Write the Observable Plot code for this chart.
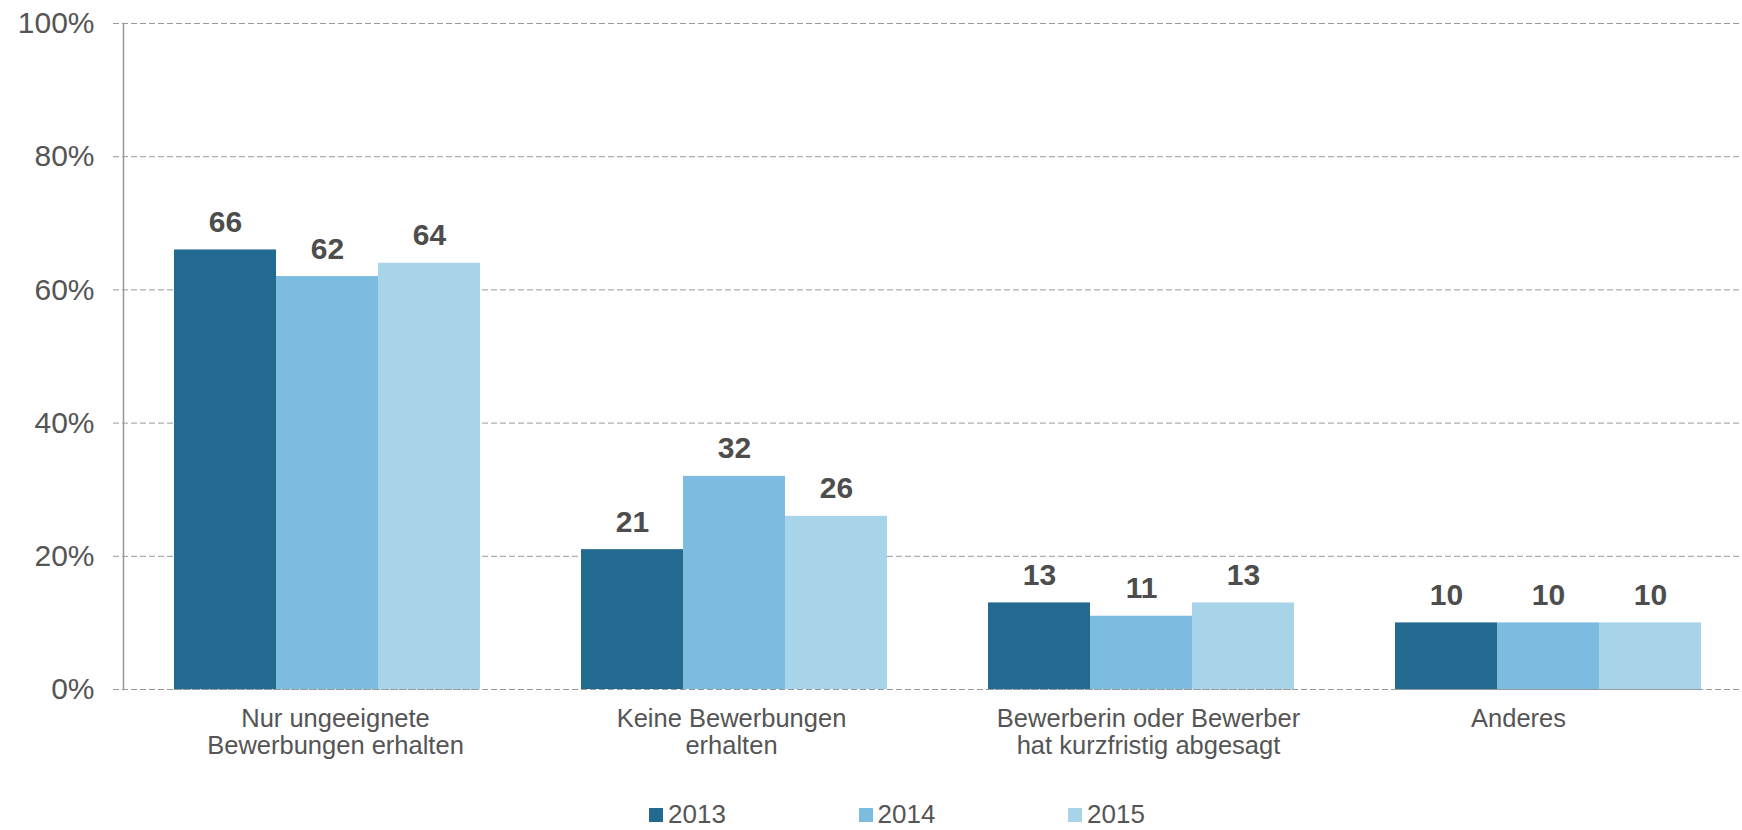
<!DOCTYPE html>
<html>
<head>
<meta charset="utf-8">
<script src="https://cdn.jsdelivr.net/npm/d3@7"></script>
<script src="https://cdn.jsdelivr.net/npm/@observablehq/plot@0.6"></script>
<style>
  html, body { margin: 0; padding: 0; background: #fff; }
  #wrap { position: relative; width: 1742px; height: 830px; overflow: hidden; font-family: "Liberation Sans", Arial, sans-serif; }
  #bg, #fg { position: absolute; left: 0; top: 0; }
  #legend { position: absolute; left: 0; top: 802px; width: 1742px; height: 24px; }
  .item { position: absolute; top: 0; height: 24px; }
  .sw { position: absolute; top: 6.3px; left: 0; width: 14px; height: 13.4px; }
  .lab { position: absolute; left: 19px; top: 0; font-size: 26px; line-height: 24px; color: #555; white-space: nowrap; }
</style>
</head>
<body>
<div id="wrap"><div id="bg"></div><div id="fg"></div><div id="legend"></div></div>
<script>
const categories = [
  "Nur ungeeignete\nBewerbungen erhalten",
  "Keine Bewerbungen\nerhalten",
  "Bewerberin oder Bewerber\nhat kurzfristig abgesagt",
  "Anderes"
];
const years = ["2013", "2014", "2015"];
const values2013 = [66, 21, 13, 10];
const values2014 = [62, 32, 11, 10];
const values2015 = [64, 26, 13, 10];
const yTicks = [0, 20, 40, 60, 80, 100];
const colors = ["#236a91", "#7bbce0", "#a8d4ea"];

const series = [values2013, values2014, values2015];
const data = categories.flatMap((c, i) => years.map((yr, j) => ({category: c, year: yr, value: series[j][i]})));

const dims = {
  width: 1742,
  height: 790,
  marginLeft: 123,
  marginTop: 23,
  marginBottom: 101
};
const font = "'Liberation Sans', Arial, sans-serif";

// Background: grid lines, y axis line and y tick labels spanning the whole plot
const bg = Plot.plot({
  ...dims,
  marginRight: 0,
  style: {fontFamily: font, background: "white", overflow: "visible"},
  y: {domain: [0, 100], axis: null},
  marks: [
    Plot.ruleY(yTicks, {stroke: "#999", strokeDasharray: "6,3", insetLeft: -10}),
    Plot.frame({anchor: "left", stroke: "#999", strokeWidth: 1.5}),
    Plot.text(yTicks, {y: d => d, frameAnchor: "left", text: d => d + "%", textAnchor: "end", dx: -29, fontSize: 30, fill: "#555"})
  ]
});
document.getElementById("bg").appendChild(bg);

// Category labels (Excel-style slight horizontal offsets of the reference)
const labelShift = [8, -3, 7, -30];
const categoryLabels = categories.map((c, i) =>
  Plot.text([c], {fx: d => d, text: d => d, frameAnchor: "bottom", lineAnchor: "top", dy: 18, dx: labelShift[i], fontSize: 25.5, lineHeight: 1.06, fill: "#555"})
);

// Foreground: grouped bars faceted by category
const fg = Plot.plot({
  ...dims,
  marginRight: 2,
  style: {fontFamily: font, background: "transparent", overflow: "visible"},
  fx: {domain: categories, paddingInner: 0.249, paddingOuter: 0.1087, align: 0.568, label: null, axis: null},
  x: {domain: years, padding: 0, axis: null},
  y: {domain: [0, 100], axis: null},
  color: {domain: years, range: colors},
  marks: [
    Plot.barY(data, {fx: "category", x: "year", y: "value", fill: "year"}),
    Plot.ruleY([0], {stroke: "#999", strokeDasharray: "6,3"}),
    Plot.text(data, {fx: "category", x: "year", y: "value", text: d => String(d.value), lineAnchor: "bottom", dy: -18, fontSize: 30, fontWeight: "bold", fill: "#4d4d4d"}),
    ...categoryLabels
  ]
});
document.getElementById("fg").appendChild(fg);

const legend = document.getElementById("legend");
const legendX = [649, 858.5, 1068];
years.forEach((yr, i) => {
  const item = document.createElement("div");
  item.className = "item";
  item.style.left = legendX[i] + "px";
  const sw = document.createElement("div");
  sw.className = "sw";
  sw.style.background = colors[i];
  const lab = document.createElement("div");
  lab.className = "lab";
  lab.textContent = yr;
  item.appendChild(sw);
  item.appendChild(lab);
  legend.appendChild(item);
});
</script>
</body>
</html>
